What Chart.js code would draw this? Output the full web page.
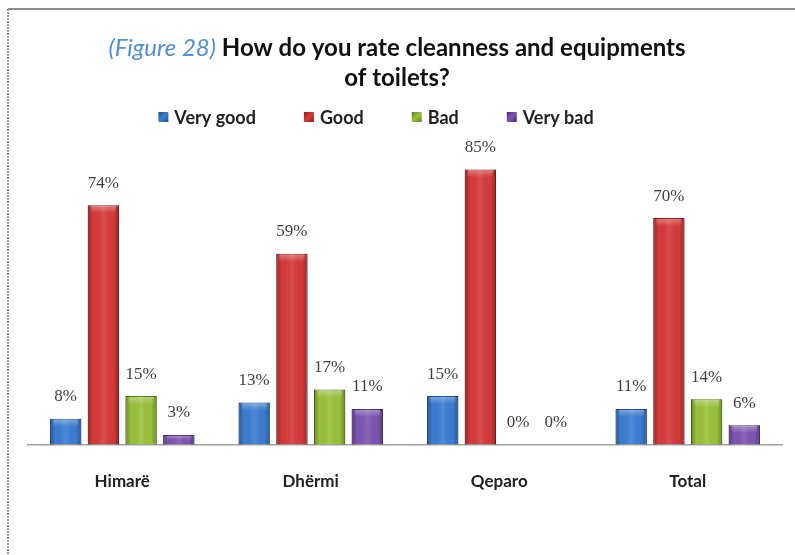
<!DOCTYPE html>
<html>
<head>
<meta charset="utf-8">
<script src="https://cdn.jsdelivr.net/npm/chart.js@4.4.1/dist/chart.umd.min.js"></script>
<style>
  html, body { margin: 0; padding: 0; background: #ffffff; }
  canvas { display: block; }
</style>
</head>
<body>
<canvas id="chart" width="795" height="555"></canvas>
<script>
// Survey answers per location, in percent
const categories = ['Himarë', 'Dhërmi', 'Qeparo', 'Total'];
const seriesNames = ['Very good', 'Good', 'Bad', 'Very bad'];
const veryGood = [8, 13, 15, 11];
const good = [74, 59, 85, 70];
const bad = [15, 17, 0, 14];
const veryBad = [3, 11, 0, 6];

const titlePrefix = '(Figure 28)';
const titleLine1 = ' How do you rate cleanness and equipments';
const titleLine2 = 'of toilets?';

// fill, darker edge
const palette = [
  ['#3b7dd2', '#1f4f8f'],
  ['#d63a3a', '#8f1c1c'],
  ['#98c23a', '#5b7c1c'],
  ['#7d55b3', '#472b77']
];

const seriesValues = [veryGood, good, bad, veryBad];

const datasets = seriesValues.map((vals, i) => ({
  label: seriesNames[i],
  data: vals,
  backgroundColor: palette[i][0],
  borderColor: palette[i][1],
  borderWidth: 1,
  categoryPercentage: 0.8,
  barPercentage: 0.83
}));

// Frame around the figure
const framePlugin = {
  id: 'frame',
  beforeDraw(chart) {
    const ctx = chart.ctx;
    ctx.save();
    ctx.fillStyle = '#ffffff';
    ctx.fillRect(0, 0, chart.width, chart.height);
    ctx.strokeStyle = '#8c8c8c';
    ctx.lineWidth = 2;
    ctx.beginPath();
    ctx.moveTo(8, 9);
    ctx.lineTo(chart.width, 9);
    ctx.stroke();
    ctx.strokeStyle = '#9a9a9a';
    ctx.setLineDash([2, 1]);
    ctx.beginPath();
    ctx.moveTo(8, 9);
    ctx.lineTo(8, chart.height);
    ctx.stroke();
    ctx.restore();
  }
};

// Two-line title with an italic blue figure number, plus the legend row
const headerPlugin = {
  id: 'header',
  afterDraw(chart) {
    const ctx = chart.ctx;
    const cx = 397;
    ctx.save();
    ctx.textBaseline = 'middle';
    const fPrefix = 'italic 24px Lato';
    const fMain = 'bold 24px Lato';
    ctx.font = fPrefix;
    const wp = ctx.measureText(titlePrefix).width;
    ctx.font = fMain;
    const wm = ctx.measureText(titleLine1).width;
    let x = cx - (wp + wm) / 2;
    ctx.textAlign = 'left';
    ctx.font = fPrefix;
    ctx.fillStyle = '#4f8fd6';
    ctx.fillText(titlePrefix, x, 48);
    ctx.font = fMain;
    ctx.fillStyle = '#111111';
    ctx.fillText(titleLine1, x + wp, 48);
    ctx.textAlign = 'center';
    ctx.fillText(titleLine2, cx, 78);

    // legend
    const fLeg = 'bold 18px Lato';
    ctx.font = fLeg;
    const box = 10, gapText = 6, gapItem = 48;
    const widths = seriesNames.map(n => ctx.measureText(n).width);
    const total = widths.reduce((a, w) => a + box + gapText + w, 0) + gapItem * (seriesNames.length - 1);
    let lx = 376 - total / 2;
    const ly = 117;
    ctx.textAlign = 'left';
    seriesNames.forEach((n, i) => {
      const g = ctx.createLinearGradient(lx, ly - box / 2, lx + box, ly + box / 2);
      g.addColorStop(0, palette[i][1]);
      g.addColorStop(0.5, palette[i][0]);
      g.addColorStop(1, palette[i][1]);
      ctx.fillStyle = g;
      ctx.fillRect(lx, ly - box / 2, box, box);
      ctx.fillStyle = '#222222';
      ctx.fillText(n, lx + box + gapText, ly + 1);
      lx += box + gapText + widths[i] + gapItem;
    });
    ctx.restore();
  }
};

// Rounded shading on each bar and value labels above them
const barDecorPlugin = {
  id: 'barDecor',
  afterDatasetsDraw(chart) {
    const ctx = chart.ctx;
    ctx.save();
    chart.data.datasets.forEach((ds, di) => {
      const meta = chart.getDatasetMeta(di);
      meta.data.forEach((bar, i) => {
        const p = bar.getProps(['x', 'y', 'base', 'width'], true);
        const left = p.x - p.width / 2;
        const h = p.base - p.y;
        if (h > 1) {
          const g = ctx.createLinearGradient(left, 0, left + p.width, 0);
          g.addColorStop(0, 'rgba(0,0,0,0.30)');
          g.addColorStop(0.18, 'rgba(0,0,0,0.0)');
          g.addColorStop(0.5, 'rgba(255,255,255,0.10)');
          g.addColorStop(0.82, 'rgba(0,0,0,0.0)');
          g.addColorStop(1, 'rgba(0,0,0,0.30)');
          ctx.fillStyle = g;
          ctx.fillRect(left, p.y, p.width, h);
          // top highlight
          const th = Math.min(8, h / 2);
          const tg = ctx.createLinearGradient(0, p.y, 0, p.y + th);
          tg.addColorStop(0, 'rgba(255,255,255,0.35)');
          tg.addColorStop(1, 'rgba(255,255,255,0)');
          ctx.fillStyle = tg;
          ctx.fillRect(left + 3, p.y + 1, p.width - 6, th);
        }
        ctx.font = '17px "Liberation Serif"';
        ctx.fillStyle = '#404040';
        ctx.textAlign = 'center';
        ctx.textBaseline = 'middle';
        ctx.fillText(ds.data[i] + '%', p.x, p.y - 22);
      });
    });
    ctx.restore();
  }
};

new Chart(document.getElementById('chart'), {
  type: 'bar',
  data: { labels: categories, datasets },
  options: {
    responsive: false,
    animation: false,
    layout: { padding: { top: 121, left: 28, right: 13, bottom: 36 } },
    plugins: {
      legend: { display: false },
      title: { display: false },
      tooltip: { enabled: false }
    },
    scales: {
      x: {
        grid: { display: false, drawTicks: false },
        border: { display: true, color: '#a0a0a0', width: 1.5 },
        ticks: {
          padding: 27,
          color: '#222222',
          font: { family: 'Lato', size: 17, weight: 'bold' }
        }
      },
      y: {
        display: false,
        min: 0,
        max: 100
      }
    }
  },
  plugins: [framePlugin, headerPlugin, barDecorPlugin]
});
</script>
</body>
</html>
